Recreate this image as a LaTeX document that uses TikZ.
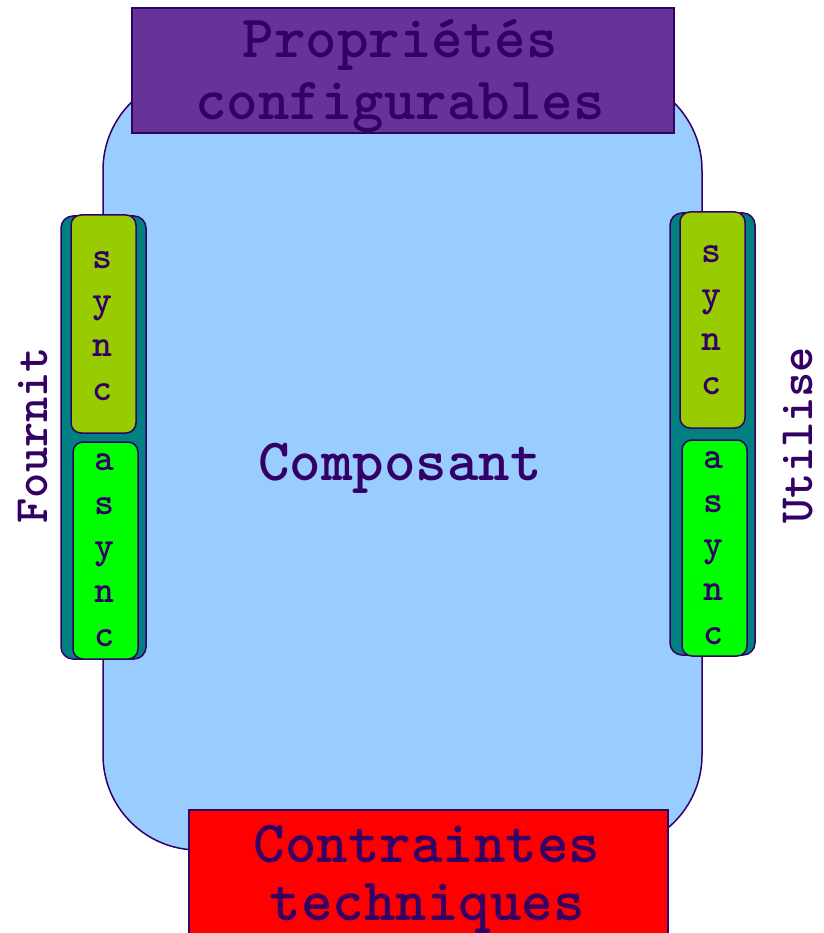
\documentclass[tikz,border=0pt]{standalone}
\usepackage{fontspec}
\definecolor{ink}{HTML}{330066}
\definecolor{bodyblue}{HTML}{99CCFF}
\definecolor{propviolet}{HTML}{663399}
\definecolor{constred}{HTML}{FF0000}
\definecolor{portteal}{HTML}{008080}
\definecolor{syncgreen}{HTML}{99CC00}
\definecolor{asyncgreen}{HTML}{00FF00}
\tikzset{
  outline/.style={draw=ink, line width=1.5pt},
  bigtext/.style={text=ink, font=\ttfamily\fontsize{60}{62}\selectfont\bfseries, inner sep=0pt},
  sidetext/.style={text=ink, font=\ttfamily\fontsize{48}{50}\selectfont\bfseries, inner sep=0pt, rotate=90, anchor=base},
  letter/.style={text=ink, font=\ttfamily\fontsize{38}{44}\selectfont\bfseries, inner sep=0pt, anchor=base},
  portbar/.style={outline, fill=portteal, rounded corners=12pt},
  syncbox/.style={outline, fill=syncgreen, rounded corners=10pt},
  asyncbox/.style={outline, fill=asyncgreen, rounded corners=10pt},
}
\begin{document}
\begin{tikzpicture}[x=1pt, y=-1pt]
\useasboundingbox (0,0) rectangle (823,933);
\clip (0,0) rectangle (823,933);

% component body
\draw[outline, fill=bodyblue, rounded corners=95pt] (103,75) rectangle (702,850);
\node[bigtext, anchor=base] (comp) at (400,480) {Composant};

% configurable properties
\node[outline, fill=propviolet, minimum width=542pt, minimum height=125pt, inner sep=0pt] (props) at (403,70.5) {};
\node[bigtext, anchor=base] (propsA) at (400,58) {Propriétés};
\node[bigtext, anchor=base] (propsB) at (400,120) {configurables};

% technical constraints
\node[outline, fill=constred, minimum width=479pt, minimum height=140pt, inner sep=0pt] (cons) at (428.5,880) {};
\node[bigtext, anchor=base] (consA) at (427,862) {Contraintes};
\node[bigtext, anchor=base] (consB) at (427,920) {techniques};

% provided port (left)
\node[portbar, minimum width=85pt, minimum height=443pt, inner sep=0pt] (lbar) at (103.5,437.5) {};
\node[syncbox, minimum width=65pt, minimum height=218pt, inner sep=0pt] (lsync) at (103.5,324) {};
\node[asyncbox, minimum width=65pt, minimum height=217pt, inner sep=0pt] (lasync) at (105.5,550.5) {};
\foreach \c [count=\i] in {s,y,n,c}
  \node[letter] (ls\i) at (102,{268+44*(\i-1)}) {\c};
\foreach \c [count=\i] in {a,s,y,n,c}
  \node[letter] (la\i) at (104,{470+44*(\i-1)}) {\c};
\node[sidetext] (fournit) at (47,435) {Fournit};

% used port (right)
\node[portbar, minimum width=85pt, minimum height=442pt, inner sep=0pt] (rbar) at (712.5,434) {};
\node[syncbox, minimum width=65pt, minimum height=216pt, inner sep=0pt] (rsync) at (712.5,320) {};
\node[asyncbox, minimum width=65pt, minimum height=216pt, inner sep=0pt] (rasync) at (714.5,548) {};
\foreach \c [count=\i] in {s,y,n,c}
  \node[letter] (rs\i) at (711,{262+44*(\i-1)}) {\c};
\foreach \c [count=\i] in {a,s,y,n,c}
  \node[letter] (ra\i) at (713,{468+44*(\i-1)}) {\c};
\node[sidetext] (utilise) at (812,435) {Utilise};
\end{tikzpicture}
\end{document}
